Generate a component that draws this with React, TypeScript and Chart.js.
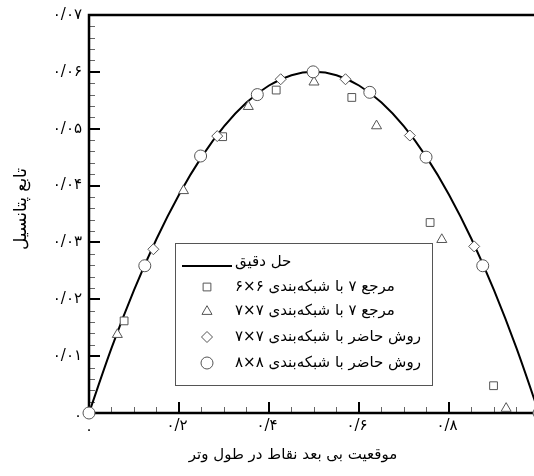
import React, { useEffect, useRef } from 'react';
import { Chart, registerables } from 'chart.js';

Chart.register(...registerables);

// ---- data ----
const exactX = [0, 0.05, 0.1, 0.15, 0.2, 0.25, 0.3, 0.35, 0.4, 0.45, 0.5, 0.55, 0.6, 0.65, 0.7, 0.75, 0.8, 0.85, 0.9, 0.95, 1.0];
const exactY = [0, 0.0114, 0.0216, 0.0306, 0.0384, 0.045, 0.0504, 0.0546, 0.0576, 0.0594, 0.06, 0.0594, 0.0576, 0.0546, 0.0504, 0.045, 0.0384, 0.0306, 0.0216, 0.0114, 0];

const ref6X = [0.078, 0.297, 0.416, 0.584, 0.758, 0.899];
const ref6Y = [0.0162, 0.0486, 0.0568, 0.0555, 0.0335, 0.0048];

const ref7X = [0.063, 0.21, 0.354, 0.5, 0.639, 0.784, 0.927];
const ref7Y = [0.0138, 0.0391, 0.0539, 0.0582, 0.0505, 0.0305, 0.0008];

const present7X = [0.143, 0.285, 0.426, 0.57, 0.713, 0.856, 1.0];
const present7Y = [0.0288, 0.0487, 0.0587, 0.0587, 0.0488, 0.0293, 0];

const present8X = [0, 0.124, 0.248, 0.374, 0.498, 0.624, 0.749, 0.875, 1.0];
const present8Y = [0, 0.0259, 0.0452, 0.056, 0.06, 0.0564, 0.045, 0.0259, 0];

const xTickValues = [0, 0.2, 0.4, 0.6, 0.8];
const xTickLabels = ['۰', '۰/۲', '۰/۴', '۰/۶', '۰/۸'];
const yTickValues = [0, 0.01, 0.02, 0.03, 0.04, 0.05, 0.06, 0.07];
const yTickLabels = ['۰', '۰/۰۱', '۰/۰۲', '۰/۰۳', '۰/۰۴', '۰/۰۵', '۰/۰۶', '۰/۰۷'];
// the visible window ends just short of x = 1 (the figure is cropped on the right)
const xMin = 0;
const xMax = 0.9889;
const yMin = 0;
const yMax = 0.07;

const legendLabels = [
  'حل دقیق',
  'مرجع ۷ با شبکه‌بندی ۶×۶',
  'مرجع ۷ با شبکه‌بندی ۷×۷',
  'روش حاضر با شبکه‌بندی ۷×۷',
  'روش حاضر با شبکه‌بندی ۸×۸',
];
const xTitle = 'موقعیت بی بعد نقاط در طول وتر';
const yTitle = 'تابع پتانسیل';

const FONT = '"DejaVu Sans", sans-serif';
const MARK = '#555555';

const toPts = (xs: number[], ys: number[]) => xs.map((x, i) => ({ x, y: ys[i] }));

function drawShape(ctx: CanvasRenderingContext2D, shape: string, x: number, y: number, r: number) {
  ctx.beginPath();
  if (shape === 'circle') {
    ctx.arc(x, y, r, 0, Math.PI * 2);
  } else if (shape === 'rect') {
    const s = Math.SQRT1_2 * r;
    ctx.rect(x - s, y - s, 2 * s, 2 * s);
  } else if (shape === 'triangle') {
    let a = 0;
    ctx.moveTo(x + Math.sin(a) * r, y - Math.cos(a) * r);
    a += (2 * Math.PI) / 3;
    ctx.lineTo(x + Math.sin(a) * r, y - Math.cos(a) * r);
    a += (2 * Math.PI) / 3;
    ctx.lineTo(x + Math.sin(a) * r, y - Math.cos(a) * r);
    ctx.closePath();
  } else if (shape === 'rectRot') {
    ctx.moveTo(x - r, y);
    ctx.lineTo(x, y - r);
    ctx.lineTo(x + r, y);
    ctx.lineTo(x, y + r);
    ctx.closePath();
  }
  ctx.fillStyle = '#fff';
  ctx.fill();
  ctx.strokeStyle = MARK;
  ctx.lineWidth = 1;
  ctx.stroke();
}

const axesPlugin = {
  id: 'customAxes',
  beforeDatasetsDraw(chart: any) {
    const ctx: CanvasRenderingContext2D = chart.ctx;
    const { left, top, bottom } = chart.chartArea;
    const xs = chart.scales.x;
    const ys = chart.scales.y;
    const W = chart.width;
    ctx.save();
    // minor ticks
    ctx.strokeStyle = '#666';
    ctx.lineWidth = 1;
    for (let i = 0; i <= 35; i++) {
      const py = Math.round(ys.getPixelForValue(i * 0.002)) + 0.5;
      ctx.beginPath();
      ctx.moveTo(left, py);
      ctx.lineTo(left + 6, py);
      ctx.stroke();
    }
    for (let i = 0; i <= 20; i++) {
      const px = Math.round(xs.getPixelForValue(i * 0.05)) + 0.5;
      if (px > W) continue;
      ctx.beginPath();
      ctx.moveTo(px, bottom);
      ctx.lineTo(px, bottom - 6);
      ctx.stroke();
    }
    // major ticks
    ctx.strokeStyle = '#000';
    ctx.lineWidth = 2;
    yTickValues.forEach((v) => {
      const py = Math.round(ys.getPixelForValue(v));
      ctx.beginPath();
      ctx.moveTo(left, py);
      ctx.lineTo(left + 11, py);
      ctx.stroke();
    });
    xTickValues.forEach((v) => {
      const px = Math.round(xs.getPixelForValue(v));
      ctx.beginPath();
      ctx.moveTo(px, bottom);
      ctx.lineTo(px, bottom - 11);
      ctx.stroke();
    });
    // frame (left, top, bottom)
    ctx.lineWidth = 2.5;
    ctx.beginPath();
    ctx.moveTo(W, top);
    ctx.lineTo(left, top);
    ctx.lineTo(left, bottom);
    ctx.lineTo(W, bottom);
    ctx.stroke();
    ctx.restore();
  },
  afterDraw(chart: any) {
    const ctx: CanvasRenderingContext2D = chart.ctx;
    const { left, bottom } = chart.chartArea;
    const xs = chart.scales.x;
    const ys = chart.scales.y;
    ctx.save();
    ctx.fillStyle = '#000';
    // tick labels
    ctx.font = `15px ${FONT}`;
    ctx.textAlign = 'right';
    ctx.textBaseline = 'middle';
    yTickValues.forEach((v, i) => {
      ctx.fillText(yTickLabels[i], left - 7, ys.getPixelForValue(v) + (i === 0 ? 3 : 0));
    });
    ctx.textAlign = 'center';
    xTickValues.forEach((v, i) => {
      ctx.fillText(xTickLabels[i], xs.getPixelForValue(v) - (i === 0 ? 0 : 2), bottom + (i === 0 ? 17 : 13));
    });
    // axis titles
    ctx.font = `15px ${FONT}`;
    ctx.textAlign = 'center';
    ctx.textBaseline = 'middle';
    (ctx as any).direction = 'rtl';
    ctx.fillText(xTitle, 293, 455);
    ctx.save();
    ctx.font = `17px ${FONT}`;
    ctx.translate(22, 209);
    ctx.rotate(-Math.PI / 2);
    ctx.fillText(yTitle, 0, 0);
    ctx.restore();

    // legend
    const bx = 175, by = 243, bw = 257, bh = 142;
    ctx.fillStyle = '#fff';
    ctx.fillRect(bx, by, bw, bh);
    ctx.strokeStyle = '#555';
    ctx.lineWidth = 1;
    ctx.strokeRect(bx + 0.5, by + 0.5, bw, bh);
    const rowY = [262, 287, 311.5, 337, 363];
    const shapes = ['line', 'rect', 'triangle', 'rectRot', 'circle'];
    const radii = [0, 5.5, 5.8, 5.5, 6];
    ctx.font = `15px ${FONT}`;
    ctx.textAlign = 'left';
    ctx.textBaseline = 'middle';
    (ctx as any).direction = 'rtl';
    shapes.forEach((s, i) => {
      const y = rowY[i];
      if (s === 'line') {
        ctx.strokeStyle = '#000';
        ctx.lineWidth = 2;
        ctx.beginPath();
        ctx.moveTo(182, y + 4);
        ctx.lineTo(232, y + 4);
        ctx.stroke();
      } else {
        drawShape(ctx, s, 207, y, radii[i]);
      }
      ctx.fillStyle = '#000';
      ctx.fillText(legendLabels[i], 235, y);
    });
    ctx.restore();
  },
};

export default function App() {
  const canvasRef = useRef<HTMLCanvasElement>(null);
  useEffect(() => {
    const markerBase = {
      showLine: false,
      borderColor: MARK,
      backgroundColor: '#ffffff',
      borderWidth: 1,
      clip: false as any,
    };
    const chart = new Chart(canvasRef.current!, {
      type: 'scatter',
      data: {
        datasets: [
          {
            label: legendLabels[0],
            data: toPts(exactX, exactY),
            showLine: true,
            borderColor: '#000',
            borderWidth: 2,
            pointRadius: 0,
            cubicInterpolationMode: 'monotone',
            order: 10,
          } as any,
          { ...markerBase, label: legendLabels[1], data: toPts(ref6X, ref6Y), pointStyle: 'rect', pointRadius: 5.5, order: 4 },
          { ...markerBase, label: legendLabels[2], data: toPts(ref7X, ref7Y), pointStyle: 'triangle', pointRadius: 5.8, order: 3 },
          { ...markerBase, label: legendLabels[3], data: toPts(present7X, present7Y), pointStyle: 'rectRot', pointRadius: 5.5, order: 2 },
          { ...markerBase, label: legendLabels[4], data: toPts(present8X, present8Y), pointStyle: 'circle', pointRadius: 6, order: 1 },
        ],
      },
      options: {
        responsive: false,
        animation: false,
        devicePixelRatio: 1,
        layout: { autoPadding: false, padding: { left: 89, top: 15, right: 0, bottom: 63 } } as any,
        scales: {
          x: { type: 'linear', min: xMin, max: xMax, display: false },
          y: { type: 'linear', min: yMin, max: yMax, display: false },
        },
        plugins: {
          legend: { display: false },
          tooltip: { enabled: false },
        },
      },
      plugins: [axesPlugin],
    });
    return () => chart.destroy();
  }, []);
  return (
    <div style={{ position: 'fixed', left: 0, top: 0, width: 534, height: 476, background: '#fff' }}>
      <canvas ref={canvasRef} width={534} height={476} style={{ display: 'block' }} />
    </div>
  );
}
